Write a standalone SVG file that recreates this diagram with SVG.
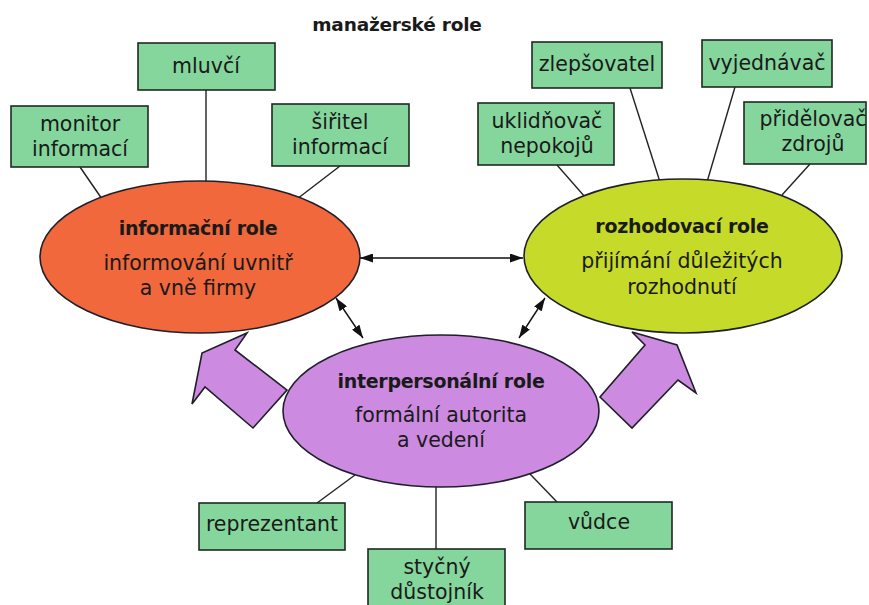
<svg xmlns="http://www.w3.org/2000/svg" width="869" height="605" viewBox="0 0 869 605">
<defs>
<style>
text{font-family:"DejaVu Sans","Liberation Sans",sans-serif;fill:#1a1a1a;text-anchor:middle}
.t{font-size:20.5px}
.b{font-size:19px;font-weight:bold;letter-spacing:-0.3px}
.title{font-size:18.5px;font-weight:bold;letter-spacing:-0.2px}
.box{fill:#84d69c;stroke:#1f2a22;stroke-width:1.6}
.ell{stroke:#1f1f2a;stroke-width:1.6}
.line{stroke:#222;stroke-width:1.4;fill:none}
.dbl{stroke:#111;stroke-width:1.4;fill:none;marker-start:url(#ah);marker-end:url(#ah)}
.block{fill:#cc8ae0;stroke:#1f1f2a;stroke-width:1.6;stroke-linejoin:miter}
</style>
<marker id="ah" viewBox="0 0 13 9" refX="13" refY="4.5" markerWidth="13" markerHeight="9" markerUnits="userSpaceOnUse" orient="auto-start-reverse">
<path d="M0,0 L13,4.5 L0,9 z" fill="#111"/>
</marker>
</defs>
<rect width="869" height="605" fill="#ffffff"/>
<text class="title" x="397" y="31">manažerské role</text>

<g id="connectors">
<line class="line" x1="206" y1="90" x2="206" y2="185"/>
<line class="line" x1="80" y1="167" x2="102" y2="199"/>
<line class="line" x1="340" y1="166" x2="297" y2="199"/>
<line class="line" x1="557" y1="165" x2="585" y2="197"/>
<line class="line" x1="630" y1="88" x2="660" y2="182"/>
<line class="line" x1="735" y1="87" x2="707" y2="182"/>
<line class="line" x1="810" y1="164" x2="782" y2="195"/>
<line class="line" x1="317" y1="503" x2="355" y2="475"/>
<line class="line" x1="436" y1="485" x2="436" y2="549"/>
<line class="line" x1="557" y1="502" x2="530" y2="474"/>
<line class="dbl" x1="360" y1="258" x2="523" y2="258"/>
<line class="dbl" x1="336" y1="298" x2="363" y2="338"/>
<line class="dbl" x1="545" y1="298" x2="519" y2="338"/>
</g>

<g id="block-arrows">
<polygon class="block" points="253,428 205,387 192,404 202,353 247,333 235,350 287,390"/>
<polygon class="block" points="632,332 677,345 696,393 678,380 632,428 600,397 645,345"/>
</g>

<g id="informacni-role">
<ellipse class="ell" cx="200" cy="257" rx="160" ry="76" fill="#f0683c"/>
<text class="b" x="198" y="235">informační role</text>
<text class="t" x="198" y="270">informování uvnitř</text>
<text class="t" x="198" y="295">a vně firmy</text>
</g>

<g id="rozhodovaci-role">
<ellipse class="ell" cx="683" cy="256" rx="159" ry="77" fill="#c6da2a"/>
<text class="b" x="682" y="233">rozhodovací role</text>
<text class="t" x="682" y="268">přijímání důležitých</text>
<text class="t" x="682" y="294">rozhodnutí</text>
</g>

<g id="interpersonalni-role">
<ellipse class="ell" cx="441" cy="411" rx="158" ry="76" fill="#cc8ae0"/>
<text class="b" x="441" y="388">interpersonální role</text>
<text class="t" x="441" y="422">formální autorita</text>
<text class="t" x="441" y="447">a vedení</text>
</g>

<g id="mluvci">
<rect class="box" x="138" y="43" width="137" height="47"/>
<text class="t" x="206" y="73">mluvčí</text>
</g>
<g id="monitor-informaci">
<rect class="box" x="11" y="106" width="137" height="61"/>
<text class="t" x="80" y="131">monitor</text>
<text class="t" x="80" y="156">informací</text>
</g>
<g id="siritel-informaci">
<rect class="box" x="272" y="104" width="137" height="62"/>
<text class="t" x="340" y="129">šiřitel</text>
<text class="t" x="340" y="154">informací</text>
</g>
<g id="zlepsovatel">
<rect class="box" x="532" y="42" width="130" height="46"/>
<text class="t" x="597" y="71">zlepšovatel</text>
</g>
<g id="vyjednavac">
<rect class="box" x="702" y="40" width="130" height="47"/>
<text class="t" x="767" y="70">vyjednávač</text>
</g>
<g id="uklidnovac-nepokoju">
<rect class="box" x="478" y="103" width="136" height="62"/>
<text class="t" x="547" y="128">uklidňovač</text>
<text class="t" x="547" y="153">nepokojů</text>
</g>
<g id="pridelovac-zdroju">
<rect class="box" x="744" y="102" width="122" height="62"/>
<text class="t" x="813" y="126">přidělovač</text>
<text class="t" x="813" y="151">zdrojů</text>
</g>
<g id="reprezentant">
<rect class="box" x="199" y="503" width="146" height="47"/>
<text class="t" x="272" y="531">reprezentant</text>
</g>
<g id="stycny-dustojnik">
<rect class="box" x="368" y="549" width="137" height="62"/>
<text class="t" x="437" y="574">styčný</text>
<text class="t" x="437" y="599">důstojník</text>
</g>
<g id="vudce">
<rect class="box" x="525" y="502" width="147" height="47"/>
<text class="t" x="599" y="529">vůdce</text>
</g>
</svg>
